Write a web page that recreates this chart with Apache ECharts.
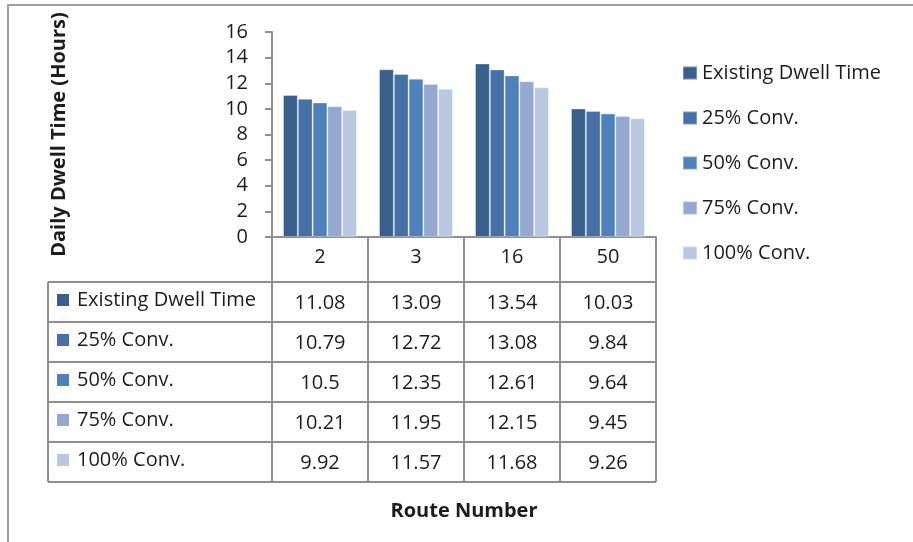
<!DOCTYPE html>
<html>
<head>
<meta charset="utf-8">
<script src="https://cdn.jsdelivr.net/npm/echarts@6/dist/echarts.min.js"></script>
<style>
  html, body { margin: 0; padding: 0; background: #ffffff; }
  #chart { width: 913px; height: 542px; }
</style>
</head>
<body>
<div id="chart"></div>
<script>
// Route numbers and daily dwell time (hours) under each conversion scenario
const routes = ['2', '3', '16', '50'];
const seriesNames = ['Existing Dwell Time', '25% Conv.', '50% Conv.', '75% Conv.', '100% Conv.'];
const existingDwell = [11.08, 13.09, 13.54, 10.03];
const conv25 = [10.79, 12.72, 13.08, 9.84];
const conv50 = [10.5, 12.35, 12.61, 9.64];
const conv75 = [10.21, 11.95, 12.15, 9.45];
const conv100 = [9.92, 11.57, 11.68, 9.26];
const yTicks = [0, 2, 4, 6, 8, 10, 12, 14, 16];

const seriesValues = [existingDwell, conv25, conv50, conv75, conv100];
const colors = ['#3B5F8D', '#4571A8', '#4F81BD', '#94A9CF', '#BAC7E1'];

// Layout
const FONT = '"Open Sans", "Noto Sans", sans-serif';
const FS = 20;
const TEXT = '#1c1c1c';
const LINE = '#8f8f8f';
const plot = { left: 272, top: 32, width: 384, height: 205 };
const headerH = 45;
const rowH = 40;
const tableLeft = 48;
const plotRight = plot.left + plot.width;
const plotBottom = plot.top + plot.height;
const tableTop = plotBottom + headerH;
const tableBottom = tableTop + rowH * seriesNames.length;
const colW = plot.width / routes.length;

const chart = echarts.init(document.getElementById('chart'), null, { renderer: 'canvas' });

// Data table beneath the plot: row labels with colour keys, values per route
const graphics = [];
// outer frame
graphics.push({ type: 'polyline', shape: { points: [[8, 600], [8, 5], [960, 5]] },
  style: { stroke: '#a0a0a0', lineWidth: 2, fill: null }, z: 1 });
// horizontal rules of the table
for (let r = 0; r <= seriesNames.length; r++) {
  const y = tableTop + r * rowH;
  graphics.push({ type: 'line', shape: { x1: tableLeft, y1: y, x2: plotRight, y2: y },
    style: { stroke: LINE, lineWidth: 2 }, z: 5 });
}
// left border of the label column
graphics.push({ type: 'line', shape: { x1: tableLeft, y1: tableTop, x2: tableLeft, y2: tableBottom },
  style: { stroke: LINE, lineWidth: 2 }, z: 5 });

seriesNames.forEach((name, r) => {
  const cy = tableTop + r * rowH + rowH / 2;
  graphics.push({ type: 'rect', shape: { x: 57, y: cy - 8, width: 12, height: 12 },
    style: { fill: colors[r] }, z: 6 });
  graphics.push({ type: 'text', x: 77, y: cy - 2,
    style: { text: name, font: FS + 'px ' + FONT, fill: TEXT, textVerticalAlign: 'middle', textAlign: 'left' }, z: 6 });
  seriesValues[r].forEach((v, c) => {
    graphics.push({ type: 'text', x: plot.left + colW * (c + 0.5), y: cy + 1,
      style: { text: String(v), font: FS + 'px ' + FONT, fill: TEXT, textVerticalAlign: 'middle', textAlign: 'center' }, z: 6 });
  });
});

const option = {
  backgroundColor: '#ffffff',
  animation: false,
  color: colors,
  grid: { left: plot.left, top: plot.top, width: plot.width, height: plot.height, containLabel: false },
  legend: {
    orient: 'vertical',
    left: 677,
    top: 58,
    itemWidth: 14,
    itemHeight: 13,
    itemGap: 25,
    icon: 'rect',
    textStyle: { fontFamily: FONT, fontSize: FS, color: TEXT },
    data: seriesNames
  },
  xAxis: {
    type: 'category',
    data: routes,
    name: 'Route Number',
    nameLocation: 'middle',
    nameGap: 264,
    nameTextStyle: { fontFamily: FONT, fontSize: FS, fontWeight: 'bold', color: TEXT },
    axisLine: { lineStyle: { color: LINE, width: 2 } },
    axisTick: { show: true, length: headerH + rowH * seriesNames.length, lineStyle: { color: LINE, width: 2 } },
    axisLabel: { margin: 10, fontFamily: FONT, fontSize: FS, color: TEXT },
    splitLine: { show: false }
  },
  yAxis: {
    type: 'value',
    min: yTicks[0],
    max: yTicks[yTicks.length - 1],
    interval: yTicks[1] - yTicks[0],
    name: 'Daily Dwell Time (Hours)',
    nameLocation: 'middle',
    nameRotate: 90,
    nameGap: 203,
    nameTextStyle: { fontFamily: FONT, fontSize: FS, fontWeight: 'bold', color: TEXT },
    axisLine: { show: true, lineStyle: { color: LINE, width: 2 } },
    axisTick: { show: true, length: 7, lineStyle: { color: LINE, width: 2 } },
    axisLabel: { margin: 24, fontFamily: FONT, fontSize: FS, color: TEXT },
    splitLine: { show: false }
  },
  series: seriesNames.map((name, i) => ({
    name: name,
    type: 'bar',
    data: seriesValues[i],
    barGap: '0%',
    barCategoryGap: '23%',
    itemStyle: { color: colors[i], borderColor: 'rgba(255,255,255,0.3)', borderWidth: 1 }
  })),
  graphic: graphics
};

chart.setOption(option);
</script>
</body>
</html>
